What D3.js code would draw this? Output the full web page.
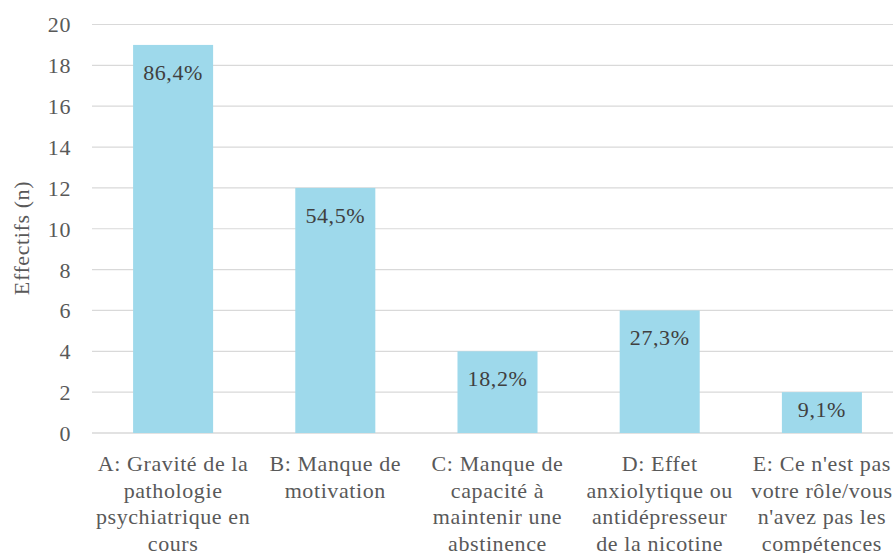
<!DOCTYPE html>
<html>
<head>
<meta charset="utf-8">
<script src="https://cdn.jsdelivr.net/npm/d3@7"></script>
<style>
  html, body { margin: 0; padding: 0; background: #fff; }
  svg { display: block; }
  svg text { letter-spacing: 0.6px; }
</style>
</head>
<body>
<svg id="chart" width="893" height="553"></svg>
<script>
const categories = [
  "A: Gravité de la|pathologie|psychiatrique en|cours",
  "B: Manque de|motivation",
  "C: Manque de|capacité à|maintenir une|abstinence",
  "D: Effet|anxiolytique ou|antidépresseur|de la nicotine",
  "E: Ce n'est pas|votre rôle/vous|n'avez pas les|compétences"
];
const values = [19, 12, 4, 6, 2];
const percentLabels = ["86,4%", "54,5%", "18,2%", "27,3%", "9,1%"];
const yTicks = [0, 2, 4, 6, 8, 10, 12, 14, 16, 18, 20];
const yTitle = "Effectifs (n)";

(function () {
const svg = d3.select("#chart");

// pick an available serif font by measuring text widths
function measure(fam) {
  const t = svg.append("text").attr("font-size", 40).style("font-family", fam).text("Gravité iiiWWW mmm 86,4%");
  const w = t.node().getComputedTextLength();
  t.remove();
  return w;
}
const base1 = measure("monospace");
const candidates = ["Liberation Serif", "Tinos", "Times New Roman", "Times", "DejaVu Serif", "Noto Serif", "FreeSerif", "serif"];
let font = "serif";
for (const c of candidates) {
  const w1 = measure(`"${c}", monospace`), w2 = measure(`"${c}", sans-serif`);
  if (Math.abs(w1 - w2) < 0.5 && Math.abs(w1 - base1) > 0.5) { font = `"${c}", serif`; break; }
}
const fs = 22;

const pLeft = 92, pRight = 903, pTop = 24.5, pBottom = 433;

const x = d3.scaleBand().domain(d3.range(categories.length)).range([pLeft, pRight]).paddingInner(0.5066).paddingOuter(0.2533);
const y = d3.scaleLinear().domain([0, 20]).range([pBottom, pTop]);

// gridlines
svg.append("g").selectAll("line").data(yTicks).join("line")
  .attr("x1", pLeft).attr("x2", 893)
  .attr("y1", d => y(d)).attr("y2", d => y(d))
  .attr("stroke", "#d9d9d9").attr("stroke-width", d => d === 0 ? 1.5 : 1.2);

// y axis labels
const yAxis = d3.axisLeft(y).tickValues(yTicks).tickSize(0).tickPadding(0);
const gy = svg.append("g").attr("transform", `translate(71,0)`).call(yAxis);
gy.select(".domain").remove();
gy.selectAll("text").style("font-family", font).attr("font-size", fs).attr("fill", "#595959").attr("dy", "0.34em");

// bars
svg.append("g").selectAll("rect").data(values).join("rect")
  .attr("x", (d, i) => x(i)).attr("width", x.bandwidth())
  .attr("y", d => y(d)).attr("height", d => y(0) - y(d))
  .attr("fill", "#9ed9eb");

// data labels
svg.append("g").selectAll("text").data(values).join("text")
  .attr("x", (d, i) => x(i) + x.bandwidth() / 2)
  .attr("y", d => Math.min(y(d) + 35, y(0) - 16))
  .attr("text-anchor", "middle")
  .style("font-family", font).attr("font-size", fs).attr("fill", "#404040")
  .text((d, i) => percentLabels[i]);

// category labels
const gx = svg.append("g");
categories.forEach((c, i) => {
  const t = gx.append("text")
    .attr("x", x(i) + x.bandwidth() / 2)
    .attr("y", 471)
    .attr("text-anchor", "middle")
    .style("font-family", font).attr("font-size", fs).attr("fill", "#595959");
  c.split("|").forEach((line, j) => {
    t.append("tspan").attr("x", x(i) + x.bandwidth() / 2).attr("dy", j === 0 ? 0 : 26.5).text(line);
  });
});

// y title
svg.append("text")
  .attr("transform", "translate(29,238) rotate(-90)")
  .attr("text-anchor", "middle")
  .style("font-family", font).attr("font-size", fs).attr("fill", "#595959")
  .text(yTitle);
})();
</script>
</body>
</html>
